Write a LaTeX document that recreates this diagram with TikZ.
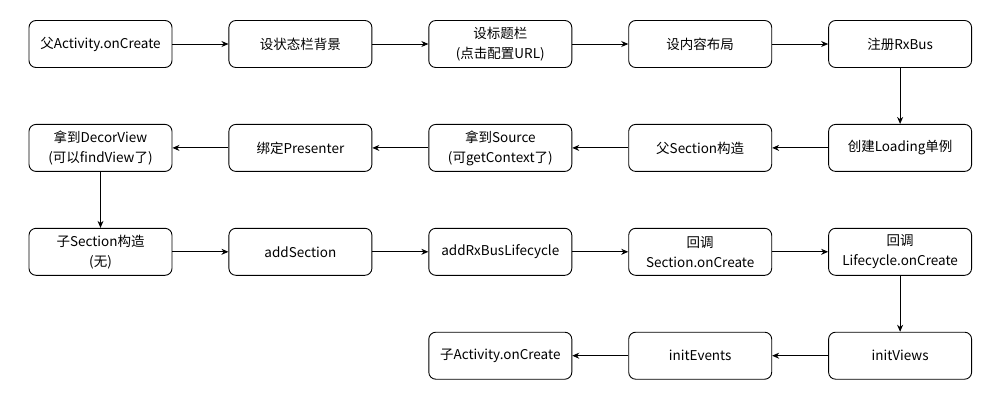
\documentclass[tikz,border=0pt]{standalone}
\usepackage{fontspec}
\setmainfont{Noto Sans CJK SC}
\usetikzlibrary{positioning, arrows.meta}
\tikzset{
  stepbox/.style={rectangle, rounded corners=7pt, minimum width=143pt, minimum height=47pt, text centered, align=center, draw=black, line width=0.9pt, fill=white},
  arrow/.style={line width=0.9pt,-{Stealth[length=7pt,width=6pt]}}
}
\begin{document}
\begin{tikzpicture}[node distance=56pt, every node/.style={font=\fontsize{13.5}{20}\selectfont}]
        \useasboundingbox (0,0) rectangle (1001pt,-400pt);
        % Zeile 1: links nach rechts
        \node (parentact) [stepbox] at (100.5pt,-44pt) {父Activity.onCreate};
        \node (statusbar) [stepbox, right=of parentact] {设状态栏背景};
        \node (titlebar) [stepbox, right=of statusbar] {设标题栏\\(点击配置URL)};
        \node (content) [stepbox, right=of titlebar] {设内容布局};
        \node (rxbus) [stepbox, right=of content] {注册RxBus};
        
        % Zeile 2: rechts nach links
        \node (loading) [stepbox, below=of rxbus] {创建Loading单例};
        \node (parentsec) [stepbox, left=of loading] {父Section构造};
        \node (source) [stepbox, left=of parentsec] {拿到Source\\(可getContext了)};
        \node (presenter) [stepbox, left=of source] {绑定Presenter};
        \node (decor) [stepbox, left=of presenter] {拿到DecorView\\(可以findView了)};
        
        % Zeile 3: links nach rechts
        \node (childsec) [stepbox, below=of decor] {子Section构造\\(无)};
        \node (addsec) [stepbox, right=of childsec] {addSection};
        \node (addlife) [stepbox, right=of addsec] {addRxBusLifecycle};
        \node (seccreate) [stepbox, right=of addlife] {回调\\Section.onCreate};
        \node (lifecreate) [stepbox, right=of seccreate] {回调\\Lifecycle.onCreate};
        
        % Zeile 4: rechts nach links
        \node (views) [stepbox, below=of lifecreate] {initViews};
        \node (events) [stepbox, left=of views] {initEvents};
        \node (childact) [stepbox, left=of events] {子Activity.onCreate};
        
        \draw [arrow] (parentact) -- (statusbar);
        \draw [arrow] (statusbar) -- (titlebar);
        \draw [arrow] (titlebar) -- (content);
        \draw [arrow] (content) -- (rxbus);
        \draw [arrow] (rxbus) -- (loading);
        
        \draw [arrow] (loading) -- (parentsec);
        \draw [arrow] (parentsec) -- (source);
        \draw [arrow] (source) -- (presenter);
        \draw [arrow] (presenter) -- (decor);
        \draw [arrow] (decor) -- (childsec);
        
        \draw [arrow] (childsec) -- (addsec);
        \draw [arrow] (addsec) -- (addlife);
        \draw [arrow] (addlife) -- (seccreate);
        \draw [arrow] (seccreate) -- (lifecreate);
        \draw [arrow] (lifecreate) -- (views);
        
        \draw [arrow] (views) -- (events);
        \draw [arrow] (events) -- (childact);
        
    \end{tikzpicture}
\end{document}
